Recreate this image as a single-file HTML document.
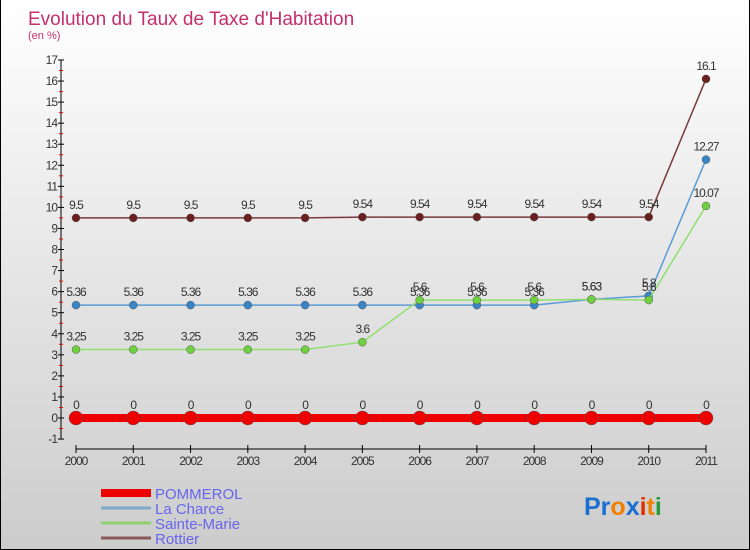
<!DOCTYPE html>
<html><head><meta charset="utf-8"><style>
body{margin:0}
#c{width:750px;height:550px;position:relative;overflow:hidden;box-sizing:border-box;border:1px solid #000;border-top:none;background:linear-gradient(#fff,#ccc);font-family:"Liberation Sans",sans-serif}
svg text{font-family:"Liberation Sans",sans-serif}
</style></head><body>
<div id="c">
<svg id="s" width="750" height="550">
<text x="27" y="25" font-size="19" fill="#c4306a">Evolution du Taux de Taxe d'Habitation</text>
<text x="27" y="39" font-size="11" fill="#c4306a">(en %)</text>
</svg>
</div>
<script>
const years=[2000,2001,2002,2003,2004,2005,2006,2007,2008,2009,2010,2011];
const seriesNames=["POMMEROL","La Charce","Sainte-Marie","Rottier"];
const pommerol=[0,0,0,0,0,0,0,0,0,0,0,0];
const laCharce=[5.36,5.36,5.36,5.36,5.36,5.36,5.36,5.36,5.36,5.63,5.8,12.27];
const sainteMarie=[3.25,3.25,3.25,3.25,3.25,3.6,5.6,5.6,5.6,5.63,5.6,10.07];
const rottier=[9.5,9.5,9.5,9.5,9.5,9.54,9.54,9.54,9.54,9.54,9.54,16.1];
const yTicks=[-1,0,1,2,3,4,5,6,7,8,9,10,11,12,13,14,15,16,17];
const NS="http://www.w3.org/2000/svg",s=document.getElementById('s');
const X=i=>75+i*(630/11), Y=v=>418-v*21.06;
function el(t,a,p){const e=document.createElementNS(NS,t);for(const k in a)e.setAttribute(k,a[k]);(p||s).appendChild(e);return e;}
// y axis
let ax=el('line',{x1:60,y1:Y(17),x2:60,y2:Y(-1),stroke:'#000'});


yTicks.forEach(v=>{
 el('line',{x1:57,x2:63,y1:Y(v),y2:Y(v),stroke:'#000'});
 if(v<17)el('line',{x1:58,x2:62,y1:Y(v+0.5),y2:Y(v+0.5),stroke:'#e00'});
 const t=el('text',{x:56,y:Y(v)+4,'font-size':12,fill:'#333','text-anchor':'end','letter-spacing':'-1'});t.textContent=v;
 
 
});
let xa=el('line',{x1:X(0),x2:X(11),y1:449,y2:449,stroke:'#000'});


years.forEach((y,i)=>{
 el('line',{x1:X(i),x2:X(i),y1:445,y2:453,stroke:'#000'});
 const t=el('text',{x:X(i),y:465,'font-size':12,fill:'#333','text-anchor':'middle','letter-spacing':'-1'});t.textContent=y;
 
 
});
function series(vals,color,dot,w,r,name){
 const g=el('g',{});
 
 
 el('polyline',{points:vals.map((v,i)=>X(i)+','+Y(v)).join(' '),fill:'none',stroke:color,'stroke-width':w},g);
 vals.forEach((v,i)=>{
  const c=el('circle',{cx:X(i),cy:Y(v),r:r,fill:dot,stroke:'#555','stroke-width':0.5},g);
  
  
  const t=el('text',{x:X(i),y:Y(v)-9,'font-size':12,fill:'#333','text-anchor':'middle','letter-spacing':'-1'},g);t.textContent=v;
 });
}
series(rottier,'#7a3a3a','#6b1f1f',1.5,4,'series-rottier');
series(laCharce,'#5b9bd5','#3a85c8',1.5,4,'series-la-charce');
series(sainteMarie,'#90e070','#6fd040',1.5,4,'series-sainte-marie');
series(pommerol,'#ee0000','#ee0000',8,7,'series-pommerol');
// legend
const lc=['#ee0000','#7faac9','#90d070','#8a5a5a'],lw=[8,3,3,3];
seriesNames.forEach((n,i)=>{
 const y=493+i*15;
 const g=el('g',{});
 
 
 el('line',{x1:100,x2:150,y1:y,y2:y,stroke:lc[i],'stroke-width':lw[i]},g);
 const t=el('text',{x:154,y:y+6,'font-size':15,fill:'#6666ee'},g);t.textContent=n;
});
const lg=el('text',{x:583,y:515,'font-size':25,'font-weight':'bold'});


[['Pr','#1a6fd0'],['o','#f08000'],['x','#1a6fd0'],['i','#e03000'],['t','#f08000'],['i','#2a9a3a']].forEach(([c,f])=>{el('tspan',{fill:f},lg).textContent=c;});
</script>
</body></html>
